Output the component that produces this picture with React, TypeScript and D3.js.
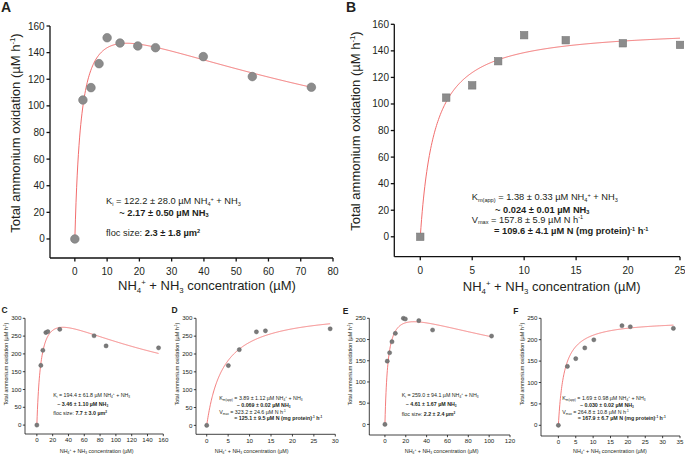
import React from 'react';
import * as d3 from 'd3';

const FONT = "'Liberation Sans', Arial, Helvetica, sans-serif";
const TXT = '#231f20';
const CURVE = '#f26d6d';

// ---------- data ----------
const aConc = [0, 2.5, 5, 7.5, 10, 14, 19.5, 25, 39.8, 55, 73.3];
const aRate = [0, 104.4, 113.7, 131.7, 151.2, 147.2, 145, 143.7, 137, 122, 114];
const aFit = { vmax: 185.6, km: 2.1, ki: 122.2 };

const bConc = [0, 2.5, 5, 7.5, 10, 14, 19.5, 25];
const bRate = [0, 104.8, 114, 132.2, 151.8, 148, 145.7, 144.5];
const bFit = { vmax: 157.8, km: 1.38 };

const cConc = [0, 5.05, 7.6, 11.4, 13.9, 29, 72.4, 87.6, 154];
const cRate = [0, 167.6, 210, 260, 262.6, 269, 251, 222.5, 217];
const cFit = { vmax: 368, km: 5.6, ki: 194.4 };

const dConc = [0, 5.05, 7.6, 11.6, 13.7, 28.8];
const dRate = [0, 167.5, 212, 262, 265, 270.6];
const dFit = { vmax: 323.2, km: 3.89 };

const eConc = [0, 2.25, 4.5, 6.75, 10, 17.7, 19.6, 32.5, 45.7, 102.3];
const eRate = [0, 149, 168.8, 194.8, 214.5, 250, 248.4, 244.5, 222.4, 208.2];
const eFit = { vmax: 294, km: 3.0, ki: 259 };

const fConc = [0, 2.6, 5, 7.6, 10.2, 18.3, 20.7, 33.1];
const fRate = [0, 137.6, 155.7, 180.8, 199.7, 232.7, 230.3, 226.4];
const fFit = { vmax: 246, km: 1.69 };

const ticksA_x = [0, 10, 20, 30, 40, 50, 60, 70, 80];
const ticksA_y = [0, 20, 40, 60, 80, 100, 120, 140, 160];
const ticksB_x = [0, 5, 10, 15, 20, 25];
const ticksB_y = [0, 20, 40, 60, 80, 100, 120, 140, 160];
const ticksC_x = [0, 20, 40, 60, 80, 100, 120, 140, 160];
const ticksC_y = [0, 50, 100, 150, 200, 250, 300];
const ticksD_x = [0, 5, 10, 15, 20, 25, 30];
const ticksD_y = [0, 50, 100, 150, 200, 250, 300];
const ticksE_x = [0, 20, 40, 60, 80, 100, 120];
const ticksE_y = [0, 50, 100, 150, 200, 250];
const ticksF_x = [0, 5, 10, 15, 20, 25, 30, 35];
const ticksF_y = [0, 50, 100, 150, 200, 250];

const xTitle = 'NH_{4}^{+} + NH_{3} concentration (µM)';
const yTitle = 'Total ammonium oxidation (µM h^{-1})';

const annA = [
  'K_{i} = 122.2 ± 28.0 µM NH_{4}^{+} + NH_{3}',
  '*~ 2.17 ± 0.50 µM NH_{3}*',
  'floc size: *2.3 ± 1.8 µm^{2}*',
];
const annB = [
  'K_{m(app)} = 1.38 ± 0.33 µM NH_{4}^{+} + NH_{3}',
  '*~ 0.024 ± 0.01 µM NH_{3}*',
  'V_{max} = 157.8 ± 5.9 µM N h^{-1}',
  '*= 109.6 ± 4.1 µM N (mg protein)^{-1} h^{-1}*',
];
const annC = [
  'K_{i} = 194.4 ± 61.8 µM NH_{4}^{+} + NH_{3}',
  '*~ 3.46 ± 1.10 µM NH_{3}*',
  'floc size: *7.7 ± 3.0 µm^{2}*',
];
const annD = [
  'K_{m(app)} = 3.89 ± 1.12 µM NH_{4}^{+} + NH_{3}',
  '*~ 0.069 ± 0.02 µM NH_{3}*',
  'V_{max} = 323.2 ± 24.6 µM N h^{-1}',
  '*= 125.1 ± 9.5 µM N (mg protein)^{-1} h^{-1}*',
];
const annE = [
  'K_{i} = 259.0 ± 94.1 µM NH_{4}^{+} + NH_{3}',
  '*~ 4.61 ± 1.67 µM NH_{3}*',
  'floc size: *2.2 ± 2.4 µm^{2}*',
];
const annF = [
  'K_{m(app)} = 1.69 ± 0.98 µM NH_{4}^{+} + NH_{3}',
  '*~ 0.030 ± 0.02 µM NH_{3}*',
  'V_{max} = 264.8 ± 10.8 µM N h^{-1}',
  '*= 167.9 ± 6.7 µM N (mg protein)^{-1} h^{-1}*',
];

// ---------- helpers ----------
type Seg = { t: string; s?: 'sub' | 'sup'; b: boolean };

function parse(str: string): Seg[] {
  const out: Seg[] = [];
  let bold = false;
  let buf = '';
  const flush = () => {
    if (buf) out.push({ t: buf, b: bold });
    buf = '';
  };
  let i = 0;
  while (i < str.length) {
    const c = str[i];
    if (c === '*') {
      flush();
      bold = !bold;
      i++;
    } else if ((c === '_' || c === '^') && str[i + 1] === '{') {
      flush();
      const end = str.indexOf('}', i);
      out.push({ t: str.slice(i + 2, end), s: c === '_' ? 'sub' : 'sup', b: bold });
      i = end + 1;
    } else {
      buf += c;
      i++;
    }
  }
  flush();
  return out;
}

function Rich(props: { x: number; y: number; str: string; fs: number; anchor?: string; transform?: string }) {
  const { x, y, str, fs, anchor, transform } = props;
  const segs = parse(str);
  let shift = 0;
  return (
    <text
      x={x}
      y={y}
      fontSize={fs}
      fontFamily={FONT}
      fill={TXT}
      textAnchor={anchor || 'start'}
      transform={transform}
      style={{ whiteSpace: 'pre' }}
    >
      {segs.map((sg, i) => {
        const target = sg.s === 'sub' ? fs * 0.2 : sg.s === 'sup' ? -fs * 0.36 : 0;
        const dy = target - shift;
        shift = target;
        return (
          <tspan key={i} dy={dy} fontSize={sg.s ? fs * 0.6 : fs} fontWeight={sg.b ? 'bold' : 'normal'}>
            {sg.t}
          </tspan>
        );
      })}
    </text>
  );
}

type PanelProps = {
  letter: string;
  letterX: number;
  letterY: number;
  letterFs: number;
  xr: [number, number];
  yr: [number, number];
  xDom: [number, number];
  yDom: [number, number];
  xTicks: number[];
  yTicks: number[];
  conc: number[];
  rate: number[];
  fit: { vmax: number; km: number; ki?: number };
  marker: 'circle' | 'square';
  msize: number;
  big: boolean;
  yTitleX: number;
  yTitleY: number;
  xTitleX: number;
  xTitleY: number;
  ann: string[];
  annPos: [number, number][];
};

function Panel(p: PanelProps) {
  const x = d3.scaleLinear().domain(p.xDom).range(p.xr);
  const y = d3.scaleLinear().domain(p.yDom).range(p.yr);
  const tickFs = p.big ? 10 : 6.2;
  const titleFs = p.big ? 13 : 5.4;
  const annFs = p.big ? 9.3 : 5.3;
  const tl = p.big ? 3.5 : 2.2;
  const sw = p.big ? 1.3 : 0.8;
  const axX = p.xr[0];
  const axY = p.yr[0];
  const model = (s: number) =>
    (p.fit.vmax * s) / (p.fit.km + s + (p.fit.ki ? (s * s) / p.fit.ki : 0));
  const xmax = d3.max(p.conc) as number;
  const samples = d3.range(0, xmax, xmax / 400).concat([xmax]);
  const line = d3
    .line<number>()
    .x((s) => x(s))
    .y((s) => y(model(s)));
  return (
    <g>
      <text
        x={p.letterX}
        y={p.letterY}
        fontSize={p.letterFs}
        fontWeight="bold"
        fontFamily={FONT}
        fill={TXT}
      >
        {p.letter}
      </text>
      {/* axes */}
      <line x1={axX} x2={axX} y1={y(p.yDom[1])} y2={axY} stroke="#111" strokeWidth={sw} />
      <line x1={axX} x2={x(p.xDom[1])} y1={axY} y2={axY} stroke="#111" strokeWidth={sw} />
      {p.yTicks.map((t) => (
        <g key={'y' + t}>
          <line x1={axX - tl} x2={axX} y1={y(t)} y2={y(t)} stroke="#111" strokeWidth={sw} />
          <text
            x={axX - tl - (p.big ? 1.8 : 1.3)}
            y={y(t) + tickFs * 0.35}
            fontSize={tickFs}
            fontFamily={FONT}
            fill={TXT}
            textAnchor="end"
          >
            {t}
          </text>
        </g>
      ))}
      {p.xTicks.map((t) => (
        <g key={'x' + t}>
          <line x1={x(t)} x2={x(t)} y1={axY} y2={axY + tl} stroke="#111" strokeWidth={sw} />
          <text
            x={x(t)}
            y={axY + (p.big ? 17 : 8.2)}
            fontSize={tickFs}
            fontFamily={FONT}
            fill={TXT}
            textAnchor="middle"
          >
            {t}
          </text>
        </g>
      ))}
      {/* titles */}
      <Rich x={p.xTitleX} y={p.xTitleY} str={xTitle} fs={titleFs} anchor="middle" />
      <Rich
        x={0}
        y={0}
        str={yTitle}
        fs={titleFs}
        anchor="middle"
        transform={`translate(${p.yTitleX},${p.yTitleY}) rotate(-90)`}
      />
      {/* curve */}
      <path d={line(samples) || ''} fill="none" stroke={CURVE} strokeWidth={p.big ? 1 : 0.9} />
      {/* points */}
      {p.conc.map((c, i) =>
        p.marker === 'circle' ? (
          <circle
            key={i}
            cx={x(c)}
            cy={y(p.rate[i])}
            r={p.msize}
            fill={p.big ? '#8c8c8c' : '#7a7a7a'}
            stroke={p.big ? '#777' : '#555'}
            strokeWidth={p.big ? 0.6 : 0.4}
          />
        ) : (
          <rect
            key={i}
            x={x(c) - p.msize}
            y={y(p.rate[i]) - p.msize}
            width={p.msize * 2}
            height={p.msize * 2}
            fill="#8c8c8c"
            stroke="#777"
            strokeWidth={0.6}
          />
        )
      )}
      {/* annotation */}
      {p.ann.map((s, i) => (
        <Rich key={i} x={p.annPos[i][0]} y={p.annPos[i][1]} str={s} fs={annFs} />
      ))}
    </g>
  );
}

export default function App() {
  return (
    <svg
      width={685}
      height={455}
      viewBox="0 0 685 455"
      style={{ position: 'absolute', left: 0, top: 0, background: '#fff' }}
    >
      <rect x={0} y={0} width={685} height={455} fill="#fff" />
      <Panel
        letter="A" letterX={1} letterY={12} letterFs={14}
        xr={[50, 333]} yr={[258, 26]} xDom={[-7.7, 80]} yDom={[-14.3, 160]}
        xTicks={ticksA_x} yTicks={ticksA_y}
        conc={aConc} rate={aRate} fit={aFit} marker="circle" msize={4.3} big
        yTitleX={19.5} yTitleY={133} xTitleX={207} xTitleY={290}
        ann={annA} annPos={[[106, 204], [119.3, 215.5], [106, 236]]}
      />
      <Panel
        letter="B" letterX={346} letterY={12} letterFs={14}
        xr={[394.3, 680]} yr={[256.7, 24.3]} xDom={[-2.5, 25]} yDom={[-15, 160]}
        xTicks={ticksB_x} yTicks={ticksB_y}
        conc={bConc} rate={bRate} fit={bFit} marker="square" msize={3.7} big
        yTitleX={359.5} yTitleY={131} xTitleX={551.7} xTitleY={291}
        ann={annB} annPos={[[471.7, 200.3], [495, 212.6], [471.7, 222.6], [494, 234.3]]}
      />
      <Panel
        letter="C" letterX={1.5} letterY={313} letterFs={8.5}
        xr={[25, 163.3]} yr={[434, 318.3]} xDom={[-15, 160]} yDom={[-25, 300]}
        xTicks={ticksC_x} yTicks={ticksC_y}
        conc={cConc} rate={cRate} fit={cFit} marker="circle" msize={2.1} big={false}
        yTitleX={8} yTitleY={364} xTitleX={96.7} xTitleY={452.5}
        ann={annC} annPos={[[53.3, 397.3], [57.3, 406.3], [53.3, 415]]}
      />
      <Panel
        letter="D" letterX={171.5} letterY={313} letterFs={8.5}
        xr={[196, 335.3]} yr={[434.3, 318.3]} xDom={[-2.5, 30]} yDom={[-25, 300]}
        xTicks={ticksD_x} yTicks={ticksD_y}
        conc={dConc} rate={dRate} fit={dFit} marker="circle" msize={2.1} big={false}
        yTitleX={178.7} yTitleY={364} xTitleX={251.7} xTitleY={452.5}
        ann={annD} annPos={[[219.3, 400.2], [236.7, 406.5], [219.3, 414], [234.3, 419.8]]}
      />
      <Panel
        letter="E" letterX={342.7} letterY={314} letterFs={8.5}
        xr={[369.3, 510]} yr={[435, 318.3]} xDom={[-15, 120]} yDom={[-25, 250]}
        xTicks={ticksE_x} yTicks={ticksE_y}
        conc={eConc} rate={eRate} fit={eFit} marker="circle" msize={2.1} big={false}
        yTitleX={352} yTitleY={364} xTitleX={441.7} xTitleY={452.5}
        ann={annE} annPos={[[401.7, 397.3], [405.7, 405.6], [401.7, 415.6]]}
      />
      <Panel
        letter="F" letterX={513.3} letterY={313.5} letterFs={8.5}
        xr={[541, 680]} yr={[436, 318.3]} xDom={[-5, 35]} yDom={[-25, 250]}
        xTicks={ticksF_x} yTicks={ticksF_y}
        conc={fConc} rate={fRate} fit={fFit} marker="circle" msize={2.1} big={false}
        yTitleX={523.7} yTitleY={364} xTitleX={610} xTitleY={452.5}
        ann={annF} annPos={[[562.3, 400.3], [580, 406.6], [562.3, 413.5], [577.7, 420]]}
      />
    </svg>
  );
}
